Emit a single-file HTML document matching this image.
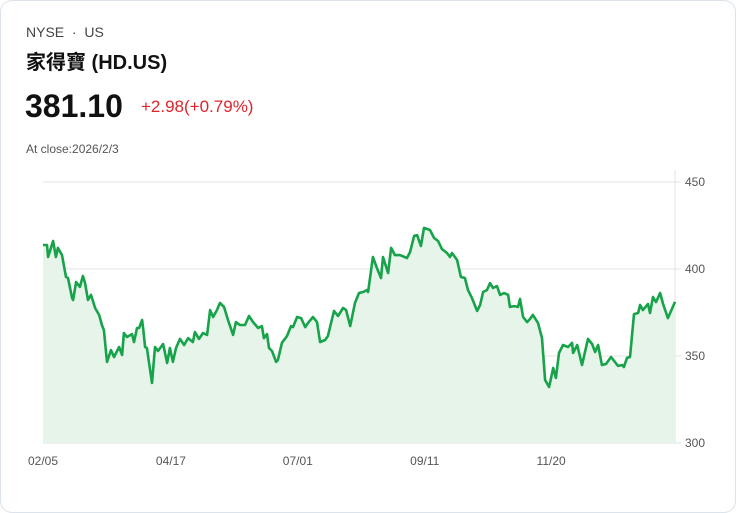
<!DOCTYPE html>
<html><head><meta charset="utf-8">
<style>
body{margin:0;background:#fff;width:736px;height:513px;overflow:hidden;font-family:"Liberation Sans","Noto Sans CJK TC",sans-serif;}
.card{position:absolute;left:0;top:0;width:734px;height:511px;border:1px solid #dde3ea;border-radius:12px;background:#fff;}
.t{position:absolute;white-space:nowrap;}
</style></head><body>
<div class="card">
<div class="t" style="left:25px;top:23px;font-size:14px;color:#444">NYSE &nbsp;·&nbsp; US</div>
<div class="t" style="left:25px;top:45px;font-size:20px;font-weight:bold;color:#111">家得寶 (HD.US)</div>
<div class="t" style="left:24px;top:87px;font-size:32px;font-weight:bold;color:#111">381.10</div>
<div class="t" style="left:140px;top:96px;font-size:17px;color:#e0242b">+2.98(+0.79%)</div>
<div class="t" style="left:25px;top:141px;font-size:12px;color:#555">At close:2026/2/3</div>
<svg id="chart" width="736" height="513" style="position:absolute;left:-1px;top:-1px"></svg>
</div>
<script>
const days=[0,1.6,2,4,5.1,5.9,7.5,9.1,9.9,11.5,11.9,13.1,14.6,15.8,16.6,17.8,19,20.6,22.2,23.3,24.1,25.3,26.9,28.1,30.1,31.3,32,33.2,35.2,36,37.2,38,39.2,39.6,40.4,41.1,43.1,44.3,45.5,47.5,49.1,50.2,51.4,52.6,54.2,55.8,57.4,59.3,60.1,61.7,63.3,64.9,66.1,67.3,68.8,70,71.6,73.2,75.2,76.3,77.9,79.9,81.5,83.1,85.1,86.6,87.4,88.6,89.4,90.6,92.2,92.9,94.5,96.5,98.1,98.9,100.5,102.1,103.7,104.8,106.8,108.4,109.6,111.6,112.7,115.1,116.7,118.7,119.9,121.5,123.4,125,126.6,128.2,128.6,130.5,132.1,133.7,134.5,136.5,137.7,139.2,141.2,144,145.2,146.8,148,149.5,150.7,153.1,154.7,156.3,157.8,159.8,161,161.8,163.8,165.3,166.9,168.1,169.7,171.7,172.9,174.1,175.6,176.8,178,179.6,180.8,182.4,184,184.7,186.3,187.9,188.7,189.9,191.5,192.7,193.8,195.8,197.4,198.6,200.2,201.8,202.9,204.1,205.7,207.7,209.3,209.7,211.3,213.2,215.6,217.2,218.4,219.6,221.1,222.7,224.7,227.5,229.1,229.8,231,232.2,233.8,235.4,236.2,237.3,239.3,240.1,241.3,242.5,244.1,245.3,247.2,250];
const prices=[413.8,413.8,406.9,416.1,406.9,412.1,408,395.4,394.8,383.3,382.2,392.5,389.7,396,392,382.2,385.1,377.6,373.6,367.8,364.9,346.6,353.4,349.4,355.2,350.6,363.2,360.9,362.6,358,366.1,366.1,370.7,366.1,355.2,354.6,334.5,355.2,352.9,356.9,346,354.6,346.6,354.6,359.8,356.3,360.3,358,363.8,359.8,363.2,362.1,376.4,372.4,376.4,380.5,378.2,370.7,362.1,369.5,367.8,367.8,373,369.5,366.1,367.2,360.3,362.6,354.6,352.9,346.6,347.7,357.5,361.5,367.2,366.6,372.4,371.8,366.6,368.9,372.4,369.5,358,359.2,361.5,375.9,373,377.6,376.4,367.2,380.5,386.2,386.8,387.9,386.8,406.9,400.6,394.8,406.9,397.7,412.1,408,408,406.3,409.8,419,419.5,413.2,423.6,422.4,417.8,416.1,411.5,409.2,406.9,409.2,405.2,395.4,394.8,387.9,383.3,375.9,379.3,386.8,387.9,391.9,389.1,390.2,385.1,386.2,385.1,378.2,378.7,378.2,382.8,372.4,369.5,371.3,373.6,369,360.3,336.2,332.2,343.1,337.4,351.7,356.3,355.2,357.5,351.7,356.3,344.8,359.8,356.9,352.3,356.3,344.8,345.4,349.4,344.3,344.8,343.7,348.9,349.4,374.1,374.7,379.3,376.4,379.9,374.7,383.9,381,386.2,379.9,371.8,381.1];
const yTicks=[450,400,350,300];
const xTickLabels=["02/05","04/17","07/01","09/11","11/20"];
const xTickDays=[0,50.6,100.8,151,201];
const svg=document.getElementById('chart');const NS='http://www.w3.org/2000/svg';
const X0=43,X1=675,Y0=443,Y1=182;
const xs=d=>X0+(d/250)*(X1-X0);
const ys=v=>Y0-(v-300)/150*(Y0-Y1);
function mk(t,a){const e=document.createElementNS(NS,t);for(const k in a)e.setAttribute(k,a[k]);svg.appendChild(e);return e;}
yTicks.forEach(v=>{
 const l=mk('line',{x1:X0,x2:X1+6,y1:ys(v),y2:ys(v),stroke:'#e3e3e3','stroke-width':1});
 
 
 const t=mk('text',{x:685,y:ys(v)+4,'font-size':12,fill:'#555','font-family':'Liberation Sans, sans-serif'});t.textContent=v;
 
 
});
const ax=mk('line',{x1:X1,x2:X1,y1:Y1-12,y2:Y0,stroke:'#e3e3e3','stroke-width':1});


xTickLabels.forEach((s,i)=>{
 const t=mk('text',{x:xs(xTickDays[i]),y:465,'font-size':12,fill:'#555','text-anchor':'middle','font-family':'Liberation Sans, sans-serif'});t.textContent=s;
 
 
});
let d='';days.forEach((dd,i)=>{d+=(i?'L':'M')+xs(dd).toFixed(1)+' '+ys(prices[i]).toFixed(1);});
const area=mk('path',{d:d+'L'+xs(days[days.length-1])+' '+Y0+'L'+X0+' '+Y0+'Z',fill:'#e6f4ea'});


const line=mk('path',{d:d,fill:'none',stroke:'#16a34a','stroke-width':2.6,'stroke-linejoin':'round'});


</script>
</body></html>
